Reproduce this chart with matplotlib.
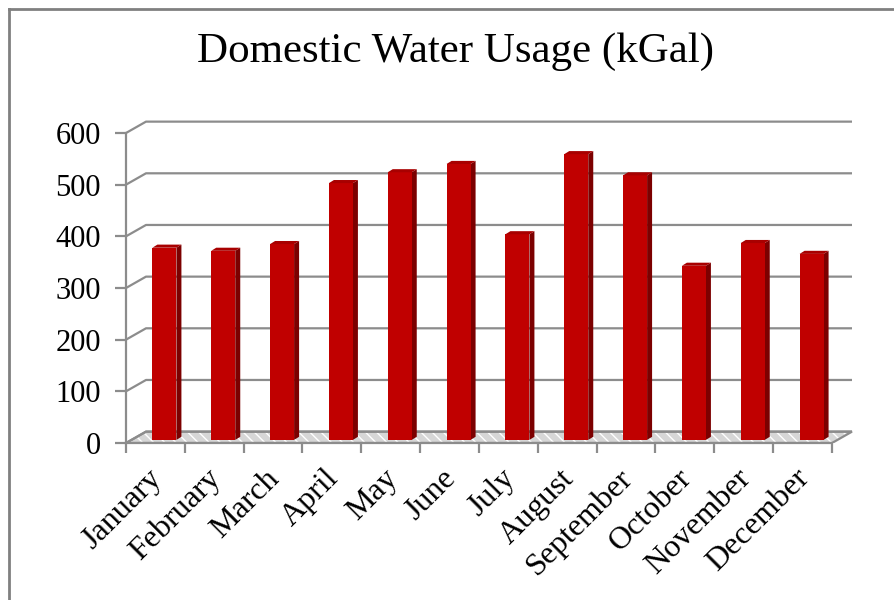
import matplotlib.pyplot as plt
from matplotlib.patches import Polygon
from matplotlib.lines import Line2D
from matplotlib.transforms import ScaledTranslation

months = ['January', 'February', 'March', 'April', 'May', 'June',
          'July', 'August', 'September', 'October', 'November', 'December']
usage = [372, 366, 379, 497, 518, 534, 398, 553, 512, 337, 381, 360]
y_ticks = [0, 100, 200, 300, 400, 500, 600]
title = 'Domestic Water Usage (kGal)'

W, H = 895, 600
px_x = 706 / 12      # pixels per category
px_y = 310 / 600     # pixels per kGal

# pseudo-3d depth of the floor / wall, in data units
depth_x = 20 / px_x
depth_y = 22
# bar placement inside the depth, front face width and side depth
bar_fx, bar_fy = 9 / px_x, 6
bar_w = 24 / px_x
side_x, side_y = 5 / px_x, 6

grid_col = '#8c8c8c'
serif = ['Liberation Serif', 'DejaVu Serif']

fig = plt.figure(figsize=(W / 100, H / 100), dpi=100)
left_px, right_px, bot_px, top_px = 126, 880, 443, 100
ax = fig.add_axes([left_px / W, 1 - bot_px / H,
                   (right_px - left_px) / W, (bot_px - top_px) / H])
ax.set_xlim(-0.5, -0.5 + (right_px - left_px) / px_x)
ax.set_ylim(0, (bot_px - top_px) / px_y)
n = len(months)
x_end = n - 0.5

# floor
floor = [(-0.5, 0), (x_end, 0), (x_end + depth_x, depth_y), (-0.5 + depth_x, depth_y)]
ax.add_patch(Polygon(floor, closed=True, facecolor='#d6d6d6', edgecolor='white',
                     hatch='\\\\\\', lw=0, zorder=1))
ax.add_patch(Polygon(floor, closed=True, fill=False, edgecolor=grid_col, lw=1.6, zorder=2))

# back wall gridlines with the diagonal joining them to the front axis
for v in y_ticks:
    ax.plot([-0.5, -0.5 + depth_x, x_end + depth_x], [v, v + depth_y, v + depth_y],
            color=grid_col, lw=1.6, zorder=1, solid_capstyle='butt')

# bars: front face, side and top
xs = [i + bar_fx for i in range(n)]
ax.bar(xs, usage, width=bar_w, bottom=bar_fy, color='#c00000', zorder=5)
for x, v in zip(xs, usage):
    x0, x1 = x - bar_w / 2, x + bar_w / 2
    side = [(x1, bar_fy), (x1 + side_x, bar_fy + side_y),
            (x1 + side_x, bar_fy + side_y + v), (x1, bar_fy + v)]
    top = [(x0, bar_fy + v), (x0 + side_x, bar_fy + v + side_y),
           (x1 + side_x, bar_fy + v + side_y), (x1, bar_fy + v)]
    ax.add_patch(Polygon(side, closed=True, facecolor='#7c0000', lw=0, zorder=4))
    ax.add_patch(Polygon(top, closed=True, facecolor='#a80000', lw=0, zorder=6))

# front axes
for s in ['top', 'right']:
    ax.spines[s].set_visible(False)
ax.spines['left'].set_bounds(0, 600)
ax.spines['bottom'].set_bounds(-0.5, x_end)
for s in ['left', 'bottom']:
    ax.spines[s].set_color(grid_col)
    ax.spines[s].set_linewidth(1.6)
ax.set_yticks(y_ticks)
ax.set_yticklabels([str(v) for v in y_ticks], fontsize=22, family=serif)
ax.tick_params(axis='y', length=8, width=1.6, color=grid_col, pad=10)
ax.set_xticks([i - 0.5 for i in range(n + 1)], minor=True)
ax.set_xticks(range(n))
ax.set_xticklabels(months, fontsize=23, family=serif, rotation=45,
                   ha='right', va='top', rotation_mode='anchor')
ax.tick_params(axis='x', which='major', length=0, pad=15)
ax.tick_params(axis='x', which='minor', length=7, width=1.6, color=grid_col)
# nudge month labels a little to the left
shift = ScaledTranslation(-8 / 100, 0, fig.dpi_scale_trans)
for lbl in ax.get_xticklabels():
    lbl.set_transform(lbl.get_transform() + shift)

fig.text(456 / W, 1 - 52 / H, title, fontsize=31, family=serif,
         ha='center', va='center')

# chart border (cropped at right and bottom)
fig.add_artist(Line2D([9 / W, 1], [1 - 9 / H, 1 - 9 / H], transform=fig.transFigure,
                      color='#808080', lw=2))
fig.add_artist(Line2D([9 / W, 9 / W], [0, 1 - 9 / H], transform=fig.transFigure,
                      color='#808080', lw=2))

fig.savefig('out.png', dpi=100)
